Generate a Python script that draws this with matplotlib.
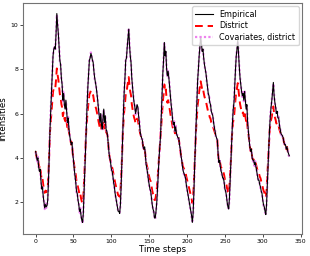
import numpy as np
import matplotlib
matplotlib.use("Agg")
import matplotlib.pyplot as plt

# Эмпирические интенсивности (шаг = 1 отсчёт, 0..335)
empirical = [
    4.3, 4.1, 3.9, 4.0, 3.6, 3.4, 3.5, 3.0, 2.6, 2.7, 2.3, 2.0, 1.75, 1.9, 1.8, 1.85,
    2.1, 3.0, 4.2, 5.3, 6.2, 7.0, 7.8, 8.6, 8.9, 9.0, 8.9, 9.6, 10.5, 10.0, 9.6, 9.0,
    8.4, 8.2, 7.6, 7.3, 6.6, 6.9, 6.4, 6.2, 6.6, 6.1, 5.6, 5.8, 5.3, 5.0, 4.8, 4.6,
    4.7, 4.2, 3.9, 3.5, 3.2, 2.9, 2.5, 2.4, 2.1, 1.9, 1.6, 1.7, 1.4, 1.2, 1.1, 1.5,
    2.5, 3.6, 4.6, 5.6, 6.4, 7.2, 7.8, 8.4, 8.5, 8.7, 8.6, 8.4, 8.3, 7.9, 7.6, 7.4,
    7.2, 6.9, 6.6, 6.2, 5.9, 5.6, 6.0, 5.5, 5.3, 5.8, 6.2, 5.6, 5.9, 5.3, 5.2, 5.0,
    4.6, 4.2, 4.0, 3.8, 3.5, 3.4, 3.2, 2.9, 2.7, 2.4, 2.2, 2.0, 1.8, 1.6, 1.6, 1.5,
    1.9, 2.8, 3.9, 5.0, 6.1, 7.0, 7.6, 8.4, 8.5, 9.0, 9.4, 9.8, 9.1, 8.6, 8.3, 7.6,
    7.2, 6.8, 6.5, 6.3, 6.0, 6.2, 6.4, 6.3, 5.9, 5.6, 5.2, 5.0, 4.9, 4.8, 4.5, 4.4,
    4.5, 4.1, 3.7, 3.5, 3.3, 3.0, 2.8, 2.6, 2.5, 2.2, 1.9, 1.7, 1.6, 1.3, 1.3, 1.6,
    2.0, 2.6, 3.3, 4.0, 4.5, 5.0, 5.9, 6.8, 7.8, 8.4, 9.2, 8.6, 8.8, 8.0, 7.7, 7.9,
    7.6, 7.2, 6.8, 6.4, 6.1, 5.7, 5.5, 5.6, 5.2, 5.4, 5.1, 5.0, 4.9, 4.9, 4.6, 4.4,
    4.1, 3.9, 3.6, 3.4, 3.3, 3.2, 3.1, 2.8, 2.6, 2.4, 2.2, 2.0, 1.8, 1.6, 1.4, 1.1,
    1.5, 2.4, 3.6, 4.6, 5.6, 6.6, 7.5, 8.0, 8.6, 9.0, 9.45, 9.1, 8.8, 8.9, 8.5, 8.2,
    8.0, 7.8, 7.5, 7.2, 6.9, 6.8, 6.5, 6.4, 6.1, 6.0, 5.9, 5.6, 5.4, 5.2, 5.0, 4.9,
    4.8, 4.2, 3.8, 3.9, 3.6, 3.4, 3.3, 3.1, 3.1, 2.9, 2.6, 2.5, 2.3, 2.0, 1.8, 1.7,
    2.2, 3.0, 3.9, 4.8, 5.6, 6.2, 6.5, 7.3, 8.0, 8.6, 8.9, 9.3, 8.7, 8.1, 7.6, 7.3,
    7.0, 6.8, 6.9, 6.6, 7.0, 6.6, 6.2, 6.4, 5.6, 5.2, 4.8, 4.5, 4.3, 4.4, 4.0, 3.9,
    3.9, 3.7, 3.8, 3.6, 3.4, 3.2, 3.0, 3.0, 2.8, 2.7, 2.5, 2.4, 2.1, 1.9, 1.8, 1.6,
    1.45, 1.9, 2.8, 3.7, 4.5, 5.3, 5.9, 6.3, 6.6, 7.0, 7.4, 6.8, 6.5, 6.3, 6.0, 6.1,
    5.8, 5.8, 5.5, 5.3, 5.1, 5.05, 5.0, 4.9, 4.7, 4.6, 4.6, 4.4, 4.5, 4.3, 4.2, 4.1,
]

# Модель по районам (сглаженные пики, приподнятые минимумы)
district = [
    4.3, 4.1, 3.93, 4.0, 3.72, 3.58, 3.65, 3.3, 3.02, 3.09, 2.81, 2.6, 2.43, 2.53, 2.46, 2.5,
    2.67, 3.3, 4.2, 5.17, 5.66, 6.1, 6.54, 6.98, 7.15, 7.2, 7.15, 7.53, 8.03, 7.75, 7.53, 7.2,
    6.87, 6.76, 6.43, 6.27, 5.88, 6.05, 5.77, 5.66, 5.88, 5.6, 5.33, 5.44, 5.17, 5.0, 4.8, 4.6,
    4.7, 4.2, 3.93, 3.65, 3.44, 3.23, 2.95, 2.88, 2.67, 2.53, 2.32, 2.39, 2.18, 2.04, 1.97, 2.25,
    2.95, 3.72, 4.6, 5.33, 5.77, 6.21, 6.54, 6.87, 6.93, 7.04, 6.98, 6.87, 6.82, 6.6, 6.43, 6.32,
    6.21, 6.05, 5.88, 5.66, 5.5, 5.33, 5.55, 5.28, 5.17, 5.44, 5.66, 5.33, 5.5, 5.17, 5.11, 5.0,
    4.6, 4.2, 4.0, 3.86, 3.65, 3.58, 3.44, 3.23, 3.09, 2.88, 2.74, 2.6, 2.46, 2.32, 2.32, 2.25,
    2.53, 3.16, 3.93, 5.0, 5.6, 6.1, 6.43, 6.87, 6.93, 7.2, 7.42, 7.64, 7.26, 6.98, 6.82, 6.43,
    6.21, 5.99, 5.83, 5.72, 5.55, 5.66, 5.77, 5.72, 5.5, 5.33, 5.11, 5.0, 4.9, 4.8, 4.5, 4.4,
    4.5, 4.1, 3.79, 3.65, 3.51, 3.3, 3.16, 3.02, 2.95, 2.74, 2.53, 2.39, 2.32, 2.11, 2.11, 2.32,
    2.6, 3.02, 3.51, 4.0, 4.5, 5.0, 5.5, 5.99, 6.54, 6.87, 7.31, 6.98, 7.09, 6.65, 6.49, 6.6,
    6.43, 6.21, 5.99, 5.77, 5.6, 5.39, 5.28, 5.33, 5.11, 5.22, 5.06, 5.0, 4.9, 4.9, 4.6, 4.4,
    4.1, 3.93, 3.72, 3.58, 3.51, 3.44, 3.37, 3.16, 3.02, 2.88, 2.74, 2.6, 2.46, 2.32, 2.18, 1.97,
    2.25, 2.88, 3.72, 4.6, 5.33, 5.88, 6.38, 6.65, 6.98, 7.2, 7.45, 7.26, 7.09, 7.15, 6.93, 6.76,
    6.65, 6.54, 6.38, 6.21, 6.05, 5.99, 5.83, 5.77, 5.6, 5.55, 5.5, 5.33, 5.22, 5.11, 5.0, 4.9,
    4.8, 4.2, 3.86, 3.93, 3.72, 3.58, 3.51, 3.37, 3.37, 3.23, 3.02, 2.95, 2.81, 2.6, 2.46, 2.39,
    2.74, 3.3, 3.93, 4.8, 5.33, 5.66, 5.83, 6.27, 6.65, 6.98, 7.15, 7.37, 7.04, 6.71, 6.43, 6.27,
    6.1, 5.99, 6.05, 5.88, 6.1, 5.88, 5.66, 5.77, 5.33, 5.11, 4.8, 4.5, 4.3, 4.4, 4.0, 3.93,
    3.93, 3.79, 3.86, 3.72, 3.58, 3.44, 3.3, 3.3, 3.16, 3.09, 2.95, 2.88, 2.67, 2.53, 2.46, 2.32,
    2.22, 2.53, 3.16, 3.79, 4.5, 5.17, 5.5, 5.72, 5.88, 6.1, 6.32, 5.99, 5.83, 5.72, 5.55, 5.6,
    5.44, 5.44, 5.28, 5.17, 5.06, 5.03, 5.0, 4.9, 4.7, 4.6, 4.6, 4.4, 4.5, 4.3, 4.2, 4.1,
]

# Модель с ковариатами (почти совпадает с эмпирикой)
covariates = [
    4.25, 4.15, 3.85, 4.05, 3.55, 3.45, 3.45, 3.05, 2.55, 2.75, 2.25, 2.05, 1.7, 1.95, 1.75, 1.9,
    2.05, 3.05, 4.15, 5.35, 6.15, 7.05, 7.75, 8.65, 8.85, 9.05, 8.85, 9.65, 10.45, 10.05, 9.55, 9.05,
    8.35, 8.25, 7.55, 7.35, 6.55, 6.95, 6.35, 6.25, 6.55, 6.15, 5.55, 5.85, 5.25, 5.05, 4.75, 4.65,
    4.65, 4.25, 3.85, 3.55, 3.15, 2.95, 2.45, 2.45, 2.05, 1.95, 1.55, 1.75, 1.35, 1.25, 1.05, 1.55,
    2.45, 3.65, 4.55, 5.65, 6.35, 7.25, 7.75, 8.45, 8.45, 8.75, 8.55, 8.45, 8.25, 7.95, 7.55, 7.45,
    7.15, 6.95, 6.55, 6.25, 5.85, 5.65, 5.95, 5.55, 5.25, 5.85, 6.15, 5.65, 5.85, 5.35, 5.15, 5.05,
    4.55, 4.25, 3.95, 3.85, 3.45, 3.45, 3.15, 2.95, 2.65, 2.45, 2.15, 2.05, 1.75, 1.65, 1.55, 1.55,
    1.85, 2.85, 3.85, 5.05, 6.05, 7.05, 7.55, 8.45, 8.45, 9.05, 9.35, 9.85, 9.05, 8.65, 8.25, 7.65,
    7.15, 6.85, 6.45, 6.35, 5.95, 6.25, 6.35, 6.35, 5.85, 5.65, 5.15, 5.05, 4.85, 4.85, 4.45, 4.45,
    4.45, 4.15, 3.65, 3.55, 3.25, 3.05, 2.75, 2.65, 2.45, 2.25, 1.85, 1.75, 1.55, 1.35, 1.25, 1.65,
    1.95, 2.65, 3.25, 4.05, 4.45, 5.05, 5.85, 6.85, 7.75, 8.45, 9.15, 8.65, 8.75, 8.05, 7.65, 7.95,
    7.55, 7.25, 6.75, 6.45, 6.05, 5.75, 5.45, 5.65, 5.15, 5.45, 5.05, 5.05, 4.85, 4.95, 4.55, 4.45,
    4.05, 3.95, 3.55, 3.45, 3.25, 3.25, 3.05, 2.85, 2.55, 2.45, 2.15, 2.05, 1.75, 1.65, 1.35, 1.15,
    1.45, 2.45, 3.55, 4.65, 5.55, 6.65, 7.45, 8.05, 8.55, 9.05, 9.4, 9.15, 8.75, 8.95, 8.45, 8.25,
    7.95, 7.85, 7.45, 7.25, 6.85, 6.85, 6.45, 6.45, 6.05, 6.05, 5.85, 5.65, 5.35, 5.25, 4.95, 4.95,
    4.75, 4.25, 3.75, 3.95, 3.55, 3.45, 3.25, 3.15, 3.05, 2.95, 2.55, 2.55, 2.25, 2.05, 1.75, 1.75,
    2.15, 3.05, 3.85, 4.85, 5.55, 6.25, 6.45, 7.35, 7.95, 8.65, 8.85, 9.25, 8.75, 8.05, 7.65, 7.25,
    7.05, 6.75, 6.95, 6.55, 7.05, 6.55, 6.25, 6.35, 5.65, 5.15, 4.85, 4.45, 4.35, 4.35, 4.05, 3.85,
    3.95, 3.65, 3.85, 3.55, 3.45, 3.15, 3.05, 2.95, 2.85, 2.65, 2.55, 2.35, 2.15, 1.85, 1.85, 1.55,
    1.5, 1.85, 2.85, 3.65, 4.55, 5.25, 5.95, 6.25, 6.65, 6.95, 7.35, 6.85, 6.45, 6.35, 5.95, 6.15,
    5.75, 5.85, 5.45, 5.35, 5.05, 5.1, 4.95, 4.95, 4.65, 4.65, 4.55, 4.45, 4.45, 4.35, 4.15, 4.05,
]

steps = np.arange(len(empirical))

fig = plt.figure(figsize=(3.1, 2.56), dpi=100)
ax = fig.add_axes([0.074, 0.086, 0.9, 0.902])

# порядок отрисовки: красная снизу, чёрная сверху
ax.plot(steps, empirical, color="black", linewidth=0.8, label="Empirical", zorder=4)
ax.plot(steps, district, color="red", linewidth=1.4, linestyle=(0, (4, 2.5)),
        label="District", zorder=2)
ax.plot(steps, covariates, color="violet", linewidth=1.6, linestyle=(0, (1, 1)),
        label="Covariates, district", zorder=3)

ax.set_xlabel("Time steps", fontsize=6.2, labelpad=1)
ax.set_ylabel("Intensities", fontsize=6.2, labelpad=2)
ax.tick_params(labelsize=4.4, length=2, width=0.5, pad=1.5)
for s in ax.spines.values():
    s.set_linewidth(0.8)
    s.set_color("0.45")
ax.set_xticks([0, 50, 100, 150, 200, 250, 300, 350])
ax.set_yticks([2, 4, 6, 8, 10])

ax.legend(loc="upper right", fontsize=5.8, handlelength=2.2, borderaxespad=0.4,
          labelspacing=0.35, borderpad=0.4)

fig.savefig("out.png", dpi=100)
